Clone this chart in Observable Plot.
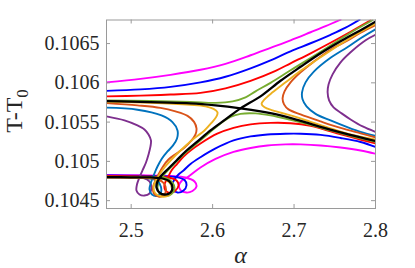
<!DOCTYPE html>
<html><head><meta charset="utf-8">
<script src="https://cdn.jsdelivr.net/npm/d3@7"></script>
<script src="https://cdn.jsdelivr.net/npm/@observablehq/plot@0.6"></script>
<style>
body{margin:0;background:#fff;}
svg text{font-family:"Liberation Serif","Times New Roman",serif !important;}
</style>
</head><body>
<script>
const xTicks = [2.5, 2.6, 2.7, 2.8];
const yTicks = [0.1045, 0.105, 0.1055, 0.106, 0.1065];
const xDomain = [2.4697, 2.8];
const yDomain = [0.10440, 0.10680];

const magentaUpper = [[2.4697,0.106006],[2.5114,0.106051],[2.5483,0.106102],[2.5851,0.106166],[2.6158,0.106242],[2.6466,0.106351],[2.6711,0.106446],[2.6957,0.106542],[2.7203,0.106644],[2.7387,0.106721],[2.7571,0.106804]];
const blueUpper = [[2.4697,0.105898],[2.5114,0.105917],[2.5483,0.105949],[2.5851,0.106006],[2.6158,0.106077],[2.6466,0.106185],[2.6711,0.106287],[2.6957,0.106402],[2.7203,0.106504],[2.7448,0.106612],[2.7633,0.106702],[2.7805,0.106804]];
const redUpper = [[2.4697,0.105828],[2.5114,0.105837],[2.5483,0.105851],[2.5851,0.105872],[2.6158,0.105930],[2.6466,0.106026],[2.6773,0.106153],[2.6957,0.106249],[2.7203,0.106376],[2.7448,0.106510],[2.7694,0.106651],[2.7940,0.106797]];
const greenUpper = [[2.4697,0.105777],[2.5237,0.105770],[2.5729,0.105758],[2.6036,0.105745],[2.6245,0.105764],[2.6404,0.105815],[2.6527,0.105892],[2.6711,0.106000],[2.6957,0.106160],[2.7326,0.106395],[2.7694,0.106638],[2.7964,0.106797]];
const magentaLower = [[2.4697,0.104827],[2.5114,0.104823],[2.5483,0.104814],[2.5667,0.104795],[2.5778,0.104744],[2.5802,0.104680],[2.5753,0.104623],[2.5679,0.104603],[2.5606,0.104635],[2.5587,0.104693],[2.5618,0.104750],[2.5704,0.104807],[2.5851,0.104922],[2.6036,0.105031],[2.6257,0.105120],[2.6466,0.105171],[2.6674,0.105203],[2.6896,0.105216],[2.7080,0.105216],[2.7326,0.105203],[2.7571,0.105177],[2.7817,0.105139],[2.8,0.105097]];
const blueLower = [[2.4697,0.104820],[2.5237,0.104814],[2.5544,0.104801],[2.5655,0.104763],[2.5679,0.104693],[2.5643,0.104629],[2.5569,0.104603],[2.5507,0.104642],[2.5501,0.104705],[2.5532,0.104769],[2.5581,0.104833],[2.5643,0.104884],[2.5729,0.104967],[2.5851,0.105053],[2.6036,0.105165],[2.6257,0.105267],[2.6466,0.105318],[2.6674,0.105343],[2.6896,0.105352],[2.7080,0.105352],[2.7326,0.105337],[2.7571,0.105298],[2.7817,0.105247],[2.8,0.105184]];
const redLower = [[2.4697,0.104814],[2.5237,0.104807],[2.5458,0.104795],[2.5557,0.104756],[2.5581,0.104693],[2.5544,0.104629],[2.5483,0.104597],[2.5421,0.104629],[2.5409,0.104705],[2.5446,0.104782],[2.5495,0.104884],[2.5565,0.104969],[2.5643,0.105062],[2.5729,0.105139],[2.5851,0.105228],[2.6057,0.105352],[2.6257,0.105426],[2.6466,0.105471],[2.6711,0.105490],[2.6957,0.105486],[2.7203,0.105452],[2.7448,0.105381],[2.7694,0.105311],[2.8,0.105228]];
const greenLower = [[2.4697,0.104804],[2.5237,0.104797],[2.5421,0.104788],[2.5507,0.104731],[2.5532,0.104654],[2.5495,0.104584],[2.5421,0.104559],[2.5348,0.104591],[2.5323,0.104667],[2.5348,0.104756],[2.5421,0.104852],[2.5520,0.104960],[2.5643,0.105088],[2.5790,0.105216],[2.5950,0.105356],[2.6097,0.105483],[2.6220,0.105566],[2.6343,0.105605],[2.6527,0.105611],[2.6711,0.105585],[2.6957,0.105528],[2.7203,0.105464],[2.7448,0.105394],[2.7694,0.105324],[2.8,0.105247]];
const yellowLeft = [[2.4697,0.105758],[2.5237,0.105745],[2.5729,0.105719],[2.5913,0.105700],[2.6011,0.105668],[2.6060,0.105624],[2.6048,0.105573],[2.5986,0.105490],[2.5900,0.105394],[2.5741,0.105267],[2.5606,0.105139],[2.5495,0.105024],[2.5409,0.104922],[2.5348,0.104833],[2.5298,0.104744],[2.5274,0.104667],[2.5298,0.104591],[2.5372,0.104552],[2.5464,0.104572],[2.5501,0.104642],[2.5477,0.104724],[2.5397,0.104776],[2.5237,0.104792],[2.4697,0.104797]];
const yellowRight = [[2.8,0.106753],[2.7694,0.106574],[2.7326,0.106325],[2.7080,0.106153],[2.6896,0.106006],[2.6736,0.105879],[2.6638,0.105790],[2.6601,0.105732],[2.6638,0.105688],[2.6736,0.105649],[2.6957,0.105585],[2.7203,0.105503],[2.7448,0.105420],[2.7694,0.105343],[2.8,0.105279]];
const orangeLeft = [[2.4697,0.105742],[2.5077,0.105713],[2.5360,0.105681],[2.5544,0.105636],[2.5692,0.105579],[2.5772,0.105503],[2.5802,0.105420],[2.5790,0.105343],[2.5735,0.105260],[2.5655,0.105177],[2.5557,0.105101],[2.5458,0.105024],[2.5391,0.104935],[2.5341,0.104846],[2.5298,0.104756],[2.5268,0.104667],[2.5280,0.104591],[2.5335,0.104552],[2.5397,0.104565],[2.5428,0.104635],[2.5403,0.104718],[2.5329,0.104769],[2.5114,0.104790],[2.4697,0.104795]];
const orangeRight = [[2.8,0.106733],[2.7817,0.106638],[2.7654,0.106536],[2.7448,0.106421],[2.7243,0.106270],[2.7080,0.106134],[2.6957,0.106006],[2.6883,0.105892],[2.6859,0.105802],[2.6877,0.105726],[2.6932,0.105662],[2.7080,0.105598],[2.7326,0.105509],[2.7571,0.105426],[2.7817,0.105356],[2.8,0.105305]];
const lightBlueLeft = [[2.4697,0.105684],[2.5077,0.105658],[2.5372,0.105585],[2.5507,0.105500],[2.5569,0.105394],[2.5563,0.105292],[2.5514,0.105203],[2.5446,0.105126],[2.5378,0.105037],[2.5323,0.104935],[2.5280,0.104833],[2.5243,0.104731],[2.5225,0.104642],[2.5256,0.104578],[2.5311,0.104559],[2.5360,0.104591],[2.5366,0.104673],[2.5323,0.104750],[2.5237,0.104782],[2.4991,0.104791],[2.4697,0.104795]];
const lightBlueRight = [[2.8,0.106682],[2.7817,0.106568],[2.7654,0.106453],[2.7448,0.106319],[2.7243,0.106143],[2.7141,0.106006],[2.7098,0.105879],[2.7104,0.105790],[2.7153,0.105700],[2.7264,0.105605],[2.7448,0.105522],[2.7654,0.105436],[2.7817,0.105375],[2.8,0.105324]];
const purpleLeft = [[2.4697,0.105573],[2.4918,0.105522],[2.5077,0.105458],[2.5163,0.105407],[2.5213,0.105343],[2.5243,0.105267],[2.5237,0.105190],[2.5213,0.105088],[2.5182,0.104986],[2.5139,0.104884],[2.5102,0.104795],[2.5071,0.104705],[2.5065,0.104629],[2.5102,0.104578],[2.5163,0.104565],[2.5225,0.104591],[2.5249,0.104667],[2.5225,0.104744],[2.5151,0.104788],[2.4991,0.104795],[2.4697,0.104801]];
const purpleRight = [[2.8,0.106612],[2.7879,0.106542],[2.7694,0.106389],[2.7571,0.106261],[2.7473,0.106108],[2.7424,0.105981],[2.7412,0.105879],[2.7430,0.105777],[2.7485,0.105688],[2.7584,0.105611],[2.7694,0.105534],[2.7842,0.105445],[2.8,0.105375]];
const blackA = [[2.4697,0.105768],[2.4991,0.105761],[2.5360,0.105751],[2.5729,0.105739],[2.6036,0.105713],[2.6343,0.105675],[2.6588,0.105636],[2.6834,0.105585],[2.7080,0.105515],[2.7326,0.105439],[2.7571,0.105369],[2.7817,0.105305],[2.8,0.105260]];
const blackB = [[2.4697,0.104800],[2.4991,0.104797],[2.5237,0.104795],[2.5385,0.104782],[2.5471,0.104744],[2.5507,0.104667],[2.5483,0.104603],[2.5409,0.104578],[2.5348,0.104603],[2.5311,0.104667],[2.5323,0.104744],[2.5372,0.104820],[2.5458,0.104909],[2.5557,0.105011],[2.5667,0.105126],[2.5815,0.105254],[2.5974,0.105394],[2.6158,0.105534],[2.6343,0.105675],[2.6588,0.105828],[2.6834,0.106026],[2.7080,0.106204],[2.7326,0.106376],[2.7571,0.106529],[2.7817,0.106670],[2.8,0.106778]];

const MAGENTA = "#FF00FF", BLUE = "#0000FF", RED = "#FF0000", GREEN = "#77AC30",
      YELLOW = "#EDB120", ORANGE = "#D95319", LBLUE = "#0072BD", PURPLE = "#7E2F8E", BLACK = "#000000";

const curves = [
  [magentaUpper, MAGENTA], [magentaLower, MAGENTA],
  [blueUpper, BLUE], [blueLower, BLUE],
  [redUpper, RED], [redLower, RED],
  [greenUpper, GREEN], [greenLower, GREEN],
  [purpleLeft, PURPLE], [purpleRight, PURPLE],
  [lightBlueLeft, LBLUE], [lightBlueRight, LBLUE],
  [orangeLeft, ORANGE], [orangeRight, ORANGE],
  [yellowLeft, YELLOW], [yellowRight, YELLOW],
  [blackA, BLACK], [blackB, BLACK]
];

const W = 415, H = 268, mL = 106, mR = 40, mT = 19.5, mB = 60;
const fw = W - mL - mR, fh = H - mT - mB;
const frameColor = "#9a9a9a";
const SERIF = "Liberation Serif";

const marks = curves.map(([pts, color]) => Plot.line(pts, {
  x: d => d[0], y: d => d[1], stroke: color,
  strokeWidth: color === BLACK ? 2.3 : 1.9, curve: "catmull-rom", clip: true
}));

marks.push(
  Plot.tickX(xTicks, {x: d => d, insetTop: fh - 4, stroke: frameColor}),
  Plot.tickX(xTicks, {x: d => d, insetBottom: fh - 4, stroke: frameColor}),
  Plot.tickY(yTicks, {y: d => d, insetRight: fw - 4, stroke: frameColor}),
  Plot.tickY(yTicks, {y: d => d, insetLeft: fw - 4, stroke: frameColor}),
  Plot.frame({stroke: frameColor, strokeWidth: 1}),
  Plot.axisX({ticks: xTicks, tickSize: 0, tickPadding: 14, tickFormat: d => String(d), label: null, fontSize: 20, fontFamily: SERIF, fill: "#262626"}),
  Plot.axisY({ticks: yTicks, tickSize: 0, tickPadding: 7, tickFormat: d => String(d), label: null, fontSize: 20, fontFamily: SERIF, fill: "#262626"})
);

const chart = Plot.plot({
  width: W, height: H,
  marginLeft: mL, marginRight: mR, marginTop: mT, marginBottom: mB,
  x: {domain: xDomain},
  y: {domain: yDomain},
  style: {fontFamily: SERIF, fontSize: "20px", background: "#fff", color: "#262626"},
  marks
});
document.body.appendChild(chart);

const svg = d3.select(chart);
const yl = svg.append("text")
  .attr("transform", "translate(21.5,111) rotate(-90)")
  .attr("text-anchor", "middle")
  .attr("font-family", SERIF)
  .attr("font-size", 24)
  .attr("fill", "#262626");
yl.append("tspan").text("T-T");
yl.append("tspan").attr("font-size", 17).attr("dy", 6).text("0");
svg.append("text")
  .attr("x", (mL + W - mR) / 2).attr("y", 263)
  .attr("text-anchor", "middle")
  .attr("font-family", SERIF)
  .attr("font-style", "italic")
  .attr("font-size", 24)
  .attr("fill", "#262626")
  .text("α");
</script>
</body></html>
